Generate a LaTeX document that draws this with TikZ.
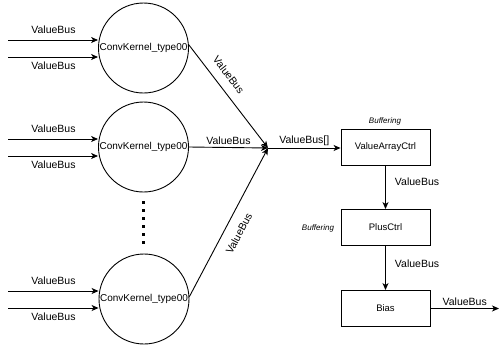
\documentclass[tikz,border=0pt]{standalone}
\usepackage{fontspec}
\setmainfont{Liberation Sans}
\usetikzlibrary{arrows.meta}
\begin{document}
\begin{tikzpicture}[x=1pt,y=-1pt,
  line width=0.9pt,
  arr/.style={-{Stealth[length=7pt,width=6pt,inset=2pt]}},
  kernel/.style={draw,circle,minimum size=90pt,inner sep=0pt,font=\fontsize{10}{12}\selectfont},
  blk/.style={draw,minimum width=89pt,minimum height=36pt,inner sep=0pt,font=\fontsize{9.5}{11}\selectfont},
  lbl/.style={font=\fontsize{10.5}{12}\selectfont,inner sep=1pt},
  buf/.style={font=\fontsize{8}{9}\selectfont\itshape,inner sep=0pt}]
\useasboundingbox (0,0) rectangle (499,346);

% kernels
\node[kernel] (c1) at (143.5,48) {ConvKernel\_type00};
\node[kernel] (c2) at (143.5,147) {ConvKernel\_type00};
\node[kernel] (c3) at (144,299) {ConvKernel\_type00};

% inputs
\foreach \n/\ya/\yb in {1/40/57, 2/139/156, 3/291/308}{
  \coordinate (i\n a) at (8,\ya);
  \coordinate (i\n b) at (8,\yb);
}
\draw[arr] (i1a) -- (i1a -| c1.west);
\draw[arr] (i1b) -- (i1b -| c1.west);
\draw[arr] (i2a) -- (i2a -| c2.west);
\draw[arr] (i2b) -- (i2b -| c2.west);
\draw[arr] (i3a) -- (i3a -| c3.west);
\draw[arr] (i3b) -- (i3b -| c3.west);
\node[lbl] (l1a) at (53.5,30) {ValueBus};
\node[lbl] (l1b) at (53.5,66) {ValueBus};
\node[lbl] (l2a) at (53.5,129) {ValueBus};
\node[lbl] (l2b) at (53.5,165) {ValueBus};
\node[lbl] (l3a) at (53.5,281) {ValueBus};
\node[lbl] (l3b) at (53.5,317) {ValueBus};

% dots
\coordinate (d1) at (143.5,201);
\coordinate (d2) at (143.5,246);
\draw[line width=2.6pt,dash pattern=on 2.6pt off 5.4pt] (d1) -- (d2);

% junction
\coordinate (j) at (268,148);
\draw[arr] (c1.4) -- node[lbl,pos=0.37,sloped,above=8pt] {ValueBus} (j);
\draw[arr] (c2.east) -- node[lbl,above=1pt] {ValueBus} (j);
\draw[arr] (c3.3) -- node[lbl,pos=0.47,sloped,below=9pt] {ValueBus} (j);

% right column
\node[blk] (va) at (385.5,147) {ValueArrayCtrl};
\node[blk] (pc) at (385.5,227.5) {PlusCtrl};
\node[blk] (bi) at (385.5,308.5) {Bias};
\node[buf] (b1) at (385,121) {Buffering};
\node[buf] (b2) at (318,228) {Buffering};

\draw[arr] (j) -- node[lbl,above=1pt] {ValueBus[]} (va.west |- j);
\draw[arr] (va) -- node[lbl,right=8pt,pos=0.38] {ValueBus} (pc);
\draw[arr] (pc) -- node[lbl,right=8pt,pos=0.4] {ValueBus} (bi);
\coordinate (out) at (499,308.5);
\draw[arr] (bi) -- node[lbl,above=1pt] {ValueBus} (out);
\end{tikzpicture}
\end{document}
